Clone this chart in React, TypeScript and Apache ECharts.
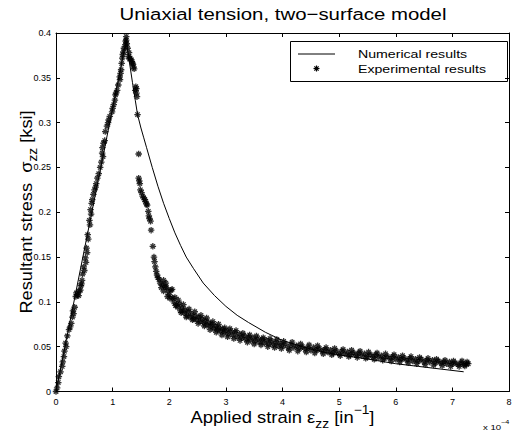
import React, { useEffect, useRef } from "react";
import * as echarts from "echarts";

// strain in units of 1e-4, stress in ksi
const numericalX = [0, 1.24, 1.3, 1.35, 1.4, 1.44, 1.5, 1.55, 1.6, 1.7, 1.8, 1.9, 2.0, 2.1, 2.2, 2.3, 2.43, 2.6, 2.8, 3.0, 3.2, 3.4, 3.7, 4.0, 4.4, 4.8, 5.2, 5.6, 6.0, 6.4, 6.8, 7.2];
const numericalY = [0, 0.392, 0.366, 0.345, 0.325, 0.309, 0.294, 0.283, 0.272, 0.25, 0.229, 0.21, 0.193, 0.177, 0.163, 0.15, 0.137, 0.121, 0.107, 0.095, 0.085, 0.077, 0.066, 0.057, 0.049, 0.043, 0.039, 0.0352, 0.031, 0.028, 0.025, 0.022];

const experimental: [number, number][] = [
  [0, 0], [0.02, 0.004], [0.04, 0.01], [0.05, 0.0165], [0.08, 0.022], [0.11, 0.028], [0.12, 0.033], [0.14, 0.039],
  [0.15, 0.045], [0.17, 0.054], [0.18, 0.05], [0.2, 0.062], [0.23, 0.069], [0.25, 0.072], [0.27, 0.076], [0.29, 0.083],
  [0.3, 0.09], [0.31, 0.087], [0.33, 0.094], [0.35, 0.106], [0.36, 0.11], [0.38, 0.108], [0.4, 0.107], [0.41, 0.112],
  [0.43, 0.113], [0.44, 0.118], [0.45, 0.12], [0.46, 0.124], [0.47, 0.131], [0.49, 0.139], [0.5, 0.135], [0.52, 0.149],
  [0.53, 0.144], [0.54, 0.16], [0.55, 0.155], [0.56, 0.175], [0.57, 0.17], [0.59, 0.191], [0.6, 0.186], [0.61, 0.203],
  [0.62, 0.198], [0.63, 0.21], [0.64, 0.214], [0.66, 0.22], [0.68, 0.225], [0.7, 0.228], [0.71, 0.232], [0.73, 0.238],
  [0.755, 0.243], [0.78, 0.25], [0.8, 0.256], [0.815, 0.266], [0.82, 0.272], [0.83, 0.262], [0.84, 0.277], [0.86, 0.28],
  [0.87, 0.29], [0.9, 0.296], [0.92, 0.3], [0.93, 0.303], [0.95, 0.307], [0.99, 0.312], [1.0, 0.316], [1.02, 0.32],
  [1.04, 0.325], [1.05, 0.331], [1.06, 0.333], [1.08, 0.336], [1.1, 0.342], [1.125, 0.351], [1.13, 0.348], [1.14, 0.355],
  [1.15, 0.359], [1.16, 0.366], [1.17, 0.372], [1.18, 0.376], [1.19, 0.379], [1.2, 0.383], [1.225, 0.387], [1.23, 0.391],
  [1.24, 0.396], [1.24, 0.392], [1.25, 0.388], [1.265, 0.383], [1.28, 0.374], [1.29, 0.378], [1.3, 0.371], [1.31, 0.372],
  [1.33, 0.37], [1.34, 0.368], [1.35, 0.366], [1.36, 0.365], [1.37, 0.362], [1.38, 0.36], [1.4, 0.336], [1.41, 0.34],
  [1.42, 0.333], [1.42, 0.338], [1.43, 0.329], [1.44, 0.309], [1.46, 0.265], [1.46, 0.238], [1.47, 0.235], [1.48, 0.232],
  [1.49, 0.225], [1.51, 0.222], [1.53, 0.218], [1.55, 0.216], [1.57, 0.214], [1.58, 0.212], [1.6, 0.209], [1.61, 0.208],
  [1.63, 0.201], [1.64, 0.196], [1.65, 0.193], [1.67, 0.19], [1.68, 0.18], [1.71, 0.162], [1.73, 0.15], [1.74, 0.145],
  [1.755, 0.139], [1.77, 0.134], [1.785, 0.13], [1.8, 0.127], [1.82, 0.125], [1.84, 0.121], [1.86, 0.116], [1.88, 0.119],
  [1.9, 0.124], [1.9, 0.112], [1.93, 0.117], [1.94, 0.121], [1.95, 0.116], [1.97, 0.106], [1.98, 0.112], [2.0, 0.108],
  [2.01, 0.104], [2.03, 0.113], [2.05, 0.114], [2.06, 0.104], [2.08, 0.1], [2.1, 0.105], [2.11, 0.096], [2.13, 0.097],
  [2.15, 0.094], [2.16, 0.102], [2.18, 0.098], [2.2, 0.09], [2.21, 0.088], [2.23, 0.093], [2.25, 0.097], [2.26, 0.088],
  [2.28, 0.091], [2.3, 0.083], [2.31, 0.085], [2.34, 0.089], [2.35, 0.092], [2.37, 0.083], [2.4, 0.086], [2.41, 0.08],
  [2.43, 0.081], [2.45, 0.089], [2.46, 0.084], [2.49, 0.08], [2.51, 0.076], [2.52, 0.083], [2.55, 0.078], [2.56, 0.085],
  [2.58, 0.081], [2.61, 0.076], [2.62, 0.073], [2.64, 0.079], [2.66, 0.082], [2.67, 0.074], [2.7, 0.077], [2.72, 0.069],
  [2.73, 0.073], [2.76, 0.075], [2.77, 0.078], [2.79, 0.07], [2.82, 0.073], [2.83, 0.066], [2.85, 0.069], [2.87, 0.075],
  [2.88, 0.071], [2.91, 0.067], [2.93, 0.063], [2.94, 0.07], [2.97, 0.066], [2.98, 0.071], [3.0, 0.068], [3.03, 0.061],
  [3.04, 0.064], [3.07, 0.07], [3.08, 0.067], [3.12, 0.063], [3.14, 0.059], [3.16, 0.066], [3.18, 0.068], [3.2, 0.061],
  [3.24, 0.064], [3.25, 0.057], [3.28, 0.06], [3.3, 0.065], [3.32, 0.062], [3.36, 0.058], [3.38, 0.055], [3.4, 0.061],
  [3.42, 0.063], [3.44, 0.057], [3.48, 0.06], [3.5, 0.053], [3.52, 0.056], [3.54, 0.062], [3.56, 0.059], [3.6, 0.055],
  [3.62, 0.052], [3.64, 0.058], [3.66, 0.06], [3.68, 0.054], [3.72, 0.057], [3.74, 0.05], [3.76, 0.053], [3.78, 0.059],
  [3.8, 0.056], [3.84, 0.052], [3.86, 0.049], [3.88, 0.055], [3.9, 0.058], [3.92, 0.051], [3.96, 0.054], [3.98, 0.048],
  [4.0, 0.051], [4.02, 0.056], [4.05, 0.053], [4.1, 0.049], [4.12, 0.046], [4.15, 0.052], [4.17, 0.055], [4.2, 0.049],
  [4.25, 0.051], [4.27, 0.045], [4.3, 0.048], [4.32, 0.053], [4.35, 0.05], [4.4, 0.047], [4.42, 0.044], [4.45, 0.049],
  [4.47, 0.052], [4.5, 0.046], [4.55, 0.049], [4.57, 0.043], [4.6, 0.046], [4.62, 0.051], [4.65, 0.048], [4.7, 0.045],
  [4.72, 0.042], [4.75, 0.047], [4.77, 0.049], [4.8, 0.044], [4.85, 0.046], [4.87, 0.041], [4.9, 0.043], [4.92, 0.048],
  [4.95, 0.045], [5.0, 0.042], [5.02, 0.04], [5.05, 0.045], [5.07, 0.047], [5.1, 0.042], [5.15, 0.044], [5.17, 0.039],
  [5.2, 0.041], [5.22, 0.046], [5.25, 0.043], [5.3, 0.041], [5.32, 0.038], [5.35, 0.043], [5.37, 0.045], [5.4, 0.04],
  [5.45, 0.042], [5.47, 0.037], [5.5, 0.039], [5.52, 0.044], [5.55, 0.041], [5.6, 0.039], [5.62, 0.036], [5.65, 0.041],
  [5.67, 0.043], [5.7, 0.038], [5.75, 0.04], [5.77, 0.035], [5.8, 0.037], [5.82, 0.042], [5.85, 0.039], [5.9, 0.037],
  [5.92, 0.034], [5.95, 0.039], [5.97, 0.041], [6.0, 0.036], [6.05, 0.038], [6.07, 0.033], [6.1, 0.036], [6.12, 0.04],
  [6.15, 0.037], [6.2, 0.035], [6.22, 0.032], [6.25, 0.037], [6.27, 0.039], [6.3, 0.034], [6.35, 0.036], [6.37, 0.031],
  [6.4, 0.034], [6.42, 0.038], [6.45, 0.036], [6.5, 0.033], [6.52, 0.03], [6.55, 0.035], [6.57, 0.037], [6.6, 0.033],
  [6.65, 0.035], [6.67, 0.0295], [6.7, 0.032], [6.72, 0.036], [6.75, 0.034], [6.8, 0.032], [6.82, 0.029], [6.85, 0.033],
  [6.87, 0.035], [6.9, 0.031], [6.95, 0.033], [6.97, 0.028], [7.0, 0.031], [7.02, 0.034], [7.05, 0.032], [7.1, 0.03],
  [7.12, 0.028], [7.15, 0.032], [7.17, 0.034], [7.2, 0.03], [7.22, 0.0285], [7.25, 0.031], [7.26, 0.033], [7.28, 0.031],
];

const xTicks = [0, 1, 2, 3, 4, 5, 6, 7, 8];
const yTicks = [0, 0.05, 0.1, 0.15, 0.2, 0.25, 0.3, 0.35, 0.4];

const titleText = "Uniaxial tension, two\u2212surface model";
const legendNames = ["Numerical results", "Experimental results"];
const xName = "{a|Applied strain \u03b5}{s|zz}{a| [in}{p|\u22121}{a|]}";
const yName = "{a|Resultant stress  \u03c3}{s|zz}{a| [ksi]}";
const xScaleNote = "{a|x 10}{p|\u22124}";

const FONT = "Liberation Sans, Arial, Helvetica, sans-serif";
const ASTERISK = "path://M5 0 L5 10 M0 5 L10 5 M1.6 1.6 L8.4 8.4 M8.4 1.6 L1.6 8.4";

export default function App() {
  const ref = useRef<HTMLDivElement>(null);
  useEffect(() => {
    if (!ref.current) return;
    const chart = echarts.init(ref.current, null, { renderer: "svg" });
    const axisCommon = {
      axisLine: { show: true, onZero: false, lineStyle: { color: "#000", width: 1 } },
      axisTick: { show: true, inside: true, length: 4, lineStyle: { color: "#000", width: 1 } },
      splitLine: { show: false },
    };
    const xBase = { type: "value", min: xTicks[0], max: xTicks[xTicks.length - 1], interval: 1 };
    const yBase = { type: "value", min: yTicks[0], max: yTicks[yTicks.length - 1], interval: 0.05 };
    const ast = (cx: number, cy: number, r: number) => [
      { type: "line", shape: { x1: cx - r, y1: cy, x2: cx + r, y2: cy }, style: { stroke: "#000", lineWidth: 1.2 } },
      { type: "line", shape: { x1: cx, y1: cy - r, x2: cx, y2: cy + r }, style: { stroke: "#000", lineWidth: 1.2 } },
      { type: "line", shape: { x1: cx - r * 0.7, y1: cy - r * 0.7, x2: cx + r * 0.7, y2: cy + r * 0.7 }, style: { stroke: "#000", lineWidth: 1.2 } },
      { type: "line", shape: { x1: cx + r * 0.7, y1: cy - r * 0.7, x2: cx - r * 0.7, y2: cy + r * 0.7 }, style: { stroke: "#000", lineWidth: 1.2 } },
    ];
    chart.setOption({
      animation: false,
      backgroundColor: "#fff",
      grid: { left: 56, right: 5, top: 33, bottom: 49.5, containLabel: false, outerBoundsMode: "none" },
      xAxis: [
        {
          ...xBase,
          ...axisCommon,
          position: "bottom",
          axisLabel: { show: true, margin: 6, fontFamily: FONT, fontSize: 9, color: "#000", formatter: (v: number) => String(v) },
        },
        { ...xBase, ...axisCommon, position: "top", axisLabel: { show: false } },
      ],
      yAxis: [
        {
          ...yBase,
          ...axisCommon,
          position: "left",
          axisLabel: { show: true, margin: 5, fontFamily: FONT, fontSize: 9, color: "#000", formatter: (v: number) => String(+v.toFixed(2)) },
        },
        { ...yBase, ...axisCommon, position: "right", axisLabel: { show: false } },
      ],
      graphic: [
        {
          type: "text",
          x: 283,
          y: 14,
          scaleX: 1.2,
          style: { text: titleText, fontFamily: FONT, fontSize: 17, fill: "#000", align: "center", verticalAlign: "middle" },
        },
        {
          type: "text",
          x: 282.5,
          y: 417,
          scaleX: 1.15,
          style: {
            text: xName,
            align: "center",
            verticalAlign: "middle",
            rich: {
              a: { fontFamily: FONT, fontSize: 16, fill: "#000", lineHeight: 26, verticalAlign: "middle" },
              s: { fontFamily: FONT, fontSize: 12, fill: "#000", lineHeight: 26, verticalAlign: "bottom" },
              p: { fontFamily: FONT, fontSize: 12, fill: "#000", lineHeight: 26, verticalAlign: "top" },
            },
          },
        },
        {
          type: "text",
          x: 26,
          y: 212,
          rotation: Math.PI / 2,
          scaleX: 1.14,
          style: {
            text: yName,
            align: "center",
            verticalAlign: "middle",
            rich: {
              a: { fontFamily: FONT, fontSize: 16, fill: "#000", lineHeight: 26, verticalAlign: "middle" },
              s: { fontFamily: FONT, fontSize: 12, fill: "#000", lineHeight: 26, verticalAlign: "bottom" },
            },
          },
        },
        {
          type: "text",
          x: 483,
          y: 425,
          scaleX: 1.2,
          style: {
            text: xScaleNote,
            align: "left",
            verticalAlign: "middle",
            rich: {
              a: { fontFamily: FONT, fontSize: 8, fill: "#000", lineHeight: 12, verticalAlign: "bottom" },
              p: { fontFamily: FONT, fontSize: 6, fill: "#000", lineHeight: 12, verticalAlign: "top" },
            },
          },
        },
        {
          type: "group",
          children: [
            { type: "rect", shape: { x: 290.5, y: 41.5, width: 217, height: 40 }, style: { fill: "#fff", stroke: "#000", lineWidth: 1 } },
            { type: "line", shape: { x1: 298, y1: 54, x2: 335, y2: 54 }, style: { stroke: "#000", lineWidth: 1 } },
            { type: "text", x: 358, y: 54, scaleX: 1.23, style: { text: legendNames[0], fontFamily: FONT, fontSize: 11.5, fill: "#000", verticalAlign: "middle" } },
            ...ast(316.5, 68.5, 3),
            { type: "text", x: 358, y: 68.5, scaleX: 1.23, style: { text: legendNames[1], fontFamily: FONT, fontSize: 11.5, fill: "#000", verticalAlign: "middle" } },
          ],
        },
      ],
      series: [
        {
          name: legendNames[0],
          type: "line",
          data: numericalX.map((x, i) => [x, numericalY[i]]),
          showSymbol: false,
          symbol: "none",
          lineStyle: { color: "#000", width: 1 },
          z: 2,
        },
        {
          name: legendNames[1],
          type: "scatter",
          data: experimental,
          symbol: ASTERISK,
          symbolSize: 6.5,
          itemStyle: { color: "#000", borderColor: "#000", borderWidth: 1.3 },
          z: 3,
        },
      ],
    });
    return () => chart.dispose();
  }, []);
  return <div ref={ref} style={{ width: 514, height: 441, position: "absolute", left: 0, top: 0 }} />;
}
